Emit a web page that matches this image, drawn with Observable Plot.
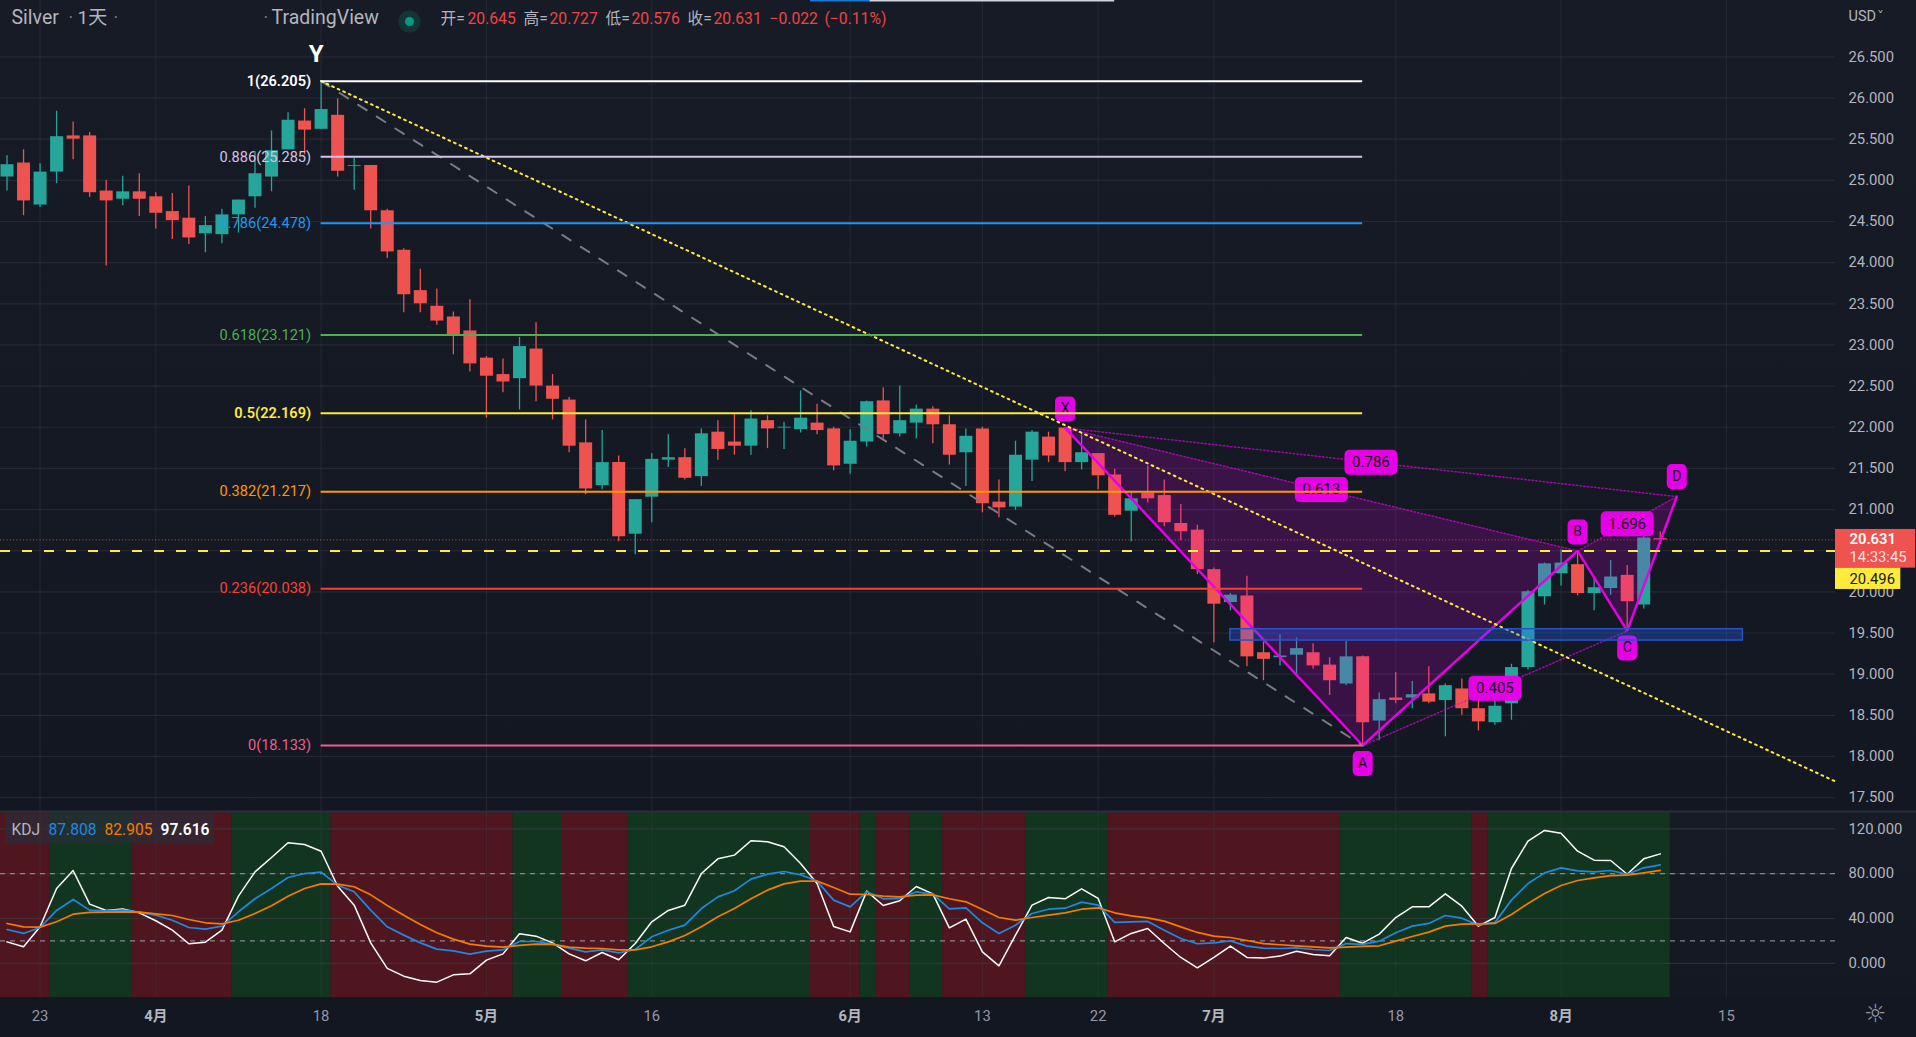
<!DOCTYPE html>
<html><head><meta charset="utf-8">
<script src="https://cdn.jsdelivr.net/npm/d3@7"></script>
<script src="https://cdn.jsdelivr.net/npm/@observablehq/plot@0.6"></script>
<style>
html,body{margin:0;padding:0;background:#131722;overflow:hidden}
svg{display:block}
</style></head><body><div id="chart"></div>
<script>
const open=[25.04,25.21,24.70,25.10,25.54,25.54,24.87,24.77,24.86,24.80,
24.62,24.54,24.35,24.34,24.58,24.80,25.04,25.37,25.72,25.62,
25.79,25.17,25.18,24.63,24.15,23.66,23.47,23.34,23.17,22.84,
22.64,22.59,22.95,22.50,22.33,21.81,21.29,21.57,20.70,21.15,
21.60,21.63,21.40,21.94,21.82,21.77,22.08,21.99,21.97,22.05,
21.98,21.55,21.82,22.32,21.92,22.05,22.22,22.03,21.69,21.98,
21.09,21.03,21.60,21.88,21.99,21.57,21.68,21.42,20.98,21.20,
21.17,20.83,20.75,20.27,19.87,19.95,19.26,19.20,19.23,19.26,
19.11,18.88,19.21,18.43,18.71,18.71,18.76,18.68,18.82,18.58,
18.41,18.64,19.08,19.94,20.22,20.33,19.98,20.04,20.20,19.84,20.645];
const high=[25.30,25.37,25.20,25.84,25.71,25.58,25.00,25.05,25.08,24.85,
24.84,24.93,24.56,24.65,24.76,25.35,25.60,25.82,25.87,26.205,
25.99,25.27,25.18,24.65,24.17,23.92,23.68,23.40,23.55,22.86,
22.83,23.09,23.27,22.64,22.36,22.09,21.96,21.65,21.12,21.68,
21.91,21.74,21.98,22.08,22.16,22.20,22.14,22.06,22.44,22.28,
22.00,21.97,22.32,22.48,22.50,22.27,22.25,22.14,21.98,22.00,
21.36,21.83,21.96,21.94,21.99,21.94,21.68,21.49,21.21,21.53,
21.36,21.06,20.81,20.29,19.98,20.19,19.39,19.48,19.44,19.37,
19.20,19.40,19.22,18.77,19.02,18.91,19.09,18.88,18.94,18.81,
18.77,19.12,20.02,20.35,20.51,20.50,20.17,20.38,20.32,20.69,20.727];
const low=[24.87,24.57,24.67,24.96,25.25,24.79,23.96,24.69,24.56,24.41,
24.28,24.22,24.12,24.23,24.36,24.66,24.86,25.37,25.31,25.62,
25.04,24.88,24.41,24.05,23.39,23.39,23.24,22.88,22.67,22.11,
22.42,22.21,22.31,22.09,21.69,21.18,21.24,20.61,20.45,20.84,
21.51,21.36,21.28,21.60,21.66,21.66,21.74,21.73,21.93,21.91,
21.47,21.43,21.76,21.85,21.88,21.86,21.80,21.54,21.28,20.96,
20.90,20.99,21.34,21.57,21.46,21.48,21.24,20.91,20.61,21.08,
20.79,20.62,20.21,19.38,19.77,19.09,18.92,19.10,18.99,19.06,
18.74,18.86,18.133,18.19,18.64,18.58,18.64,18.24,18.50,18.31,
18.38,18.44,19.05,19.84,20.07,19.95,19.77,19.96,19.525,19.79,20.576];
const close=[25.19,24.75,25.10,25.53,25.50,24.85,24.75,24.86,24.77,24.60,
24.51,24.30,24.45,24.58,24.76,25.08,25.36,25.73,25.61,25.86,
25.11,25.18,24.63,24.13,23.61,23.50,23.29,23.12,22.77,22.62,
22.55,22.98,22.50,22.34,21.77,21.25,21.57,20.67,21.12,21.61,
21.63,21.38,21.92,21.73,21.77,22.10,21.98,22.00,22.11,21.96,
21.53,21.83,22.31,21.91,22.08,22.22,22.03,21.66,21.89,21.07,
21.02,21.66,21.94,21.65,21.57,21.69,21.41,20.93,21.13,21.13,
20.84,20.73,20.27,19.85,19.96,19.21,19.18,19.22,19.31,19.10,
18.92,19.21,18.41,18.69,18.68,18.75,18.66,18.86,18.58,18.42,
18.61,19.08,20.00,20.34,20.35,19.98,20.05,20.18,19.88,20.655,20.631];

const kdjK=[30.2,26.7,32.0,47.2,57.0,47.5,46.9,47.5,45.7,43.0,
38.5,32.0,30.5,33.2,46.0,57.6,66.8,76.6,80.1,81.3,
69.7,63.8,47.5,32.6,25.2,18.3,12.7,11.2,8.2,10.9,
12.1,19.5,19.5,17.2,13.6,10.3,12.1,9.4,12.4,23.7,
29.6,34.1,48.9,59.3,64.7,75.1,79.5,81.9,79.0,73.3,
56.4,50.4,63.8,57.6,57.9,63.8,61.7,48.6,49.5,36.2,
26.7,34.1,44.5,48.3,49.2,54.6,51.9,36.5,37.1,37.4,
29.6,22.2,17.5,18.3,20.1,15.4,13.6,13.3,13.9,12.4,
11.5,17.7,16.9,19.8,27.3,33.2,35.6,42.7,40.3,34.1,
36.5,56.4,71.2,80.7,85.2,82.5,81.6,82.8,79.5,85.2,87.808];
const kdjD=[35.6,32.6,32.3,37.1,43.9,45.4,45.7,46.0,45.7,44.2,
42.7,39.1,36.2,35.3,38.5,44.5,51.3,59.9,66.8,70.9,
70.6,68.3,61.1,51.6,43.0,34.7,27.3,21.6,17.2,15.4,
14.5,16.0,17.2,16.9,14.5,13.6,13.3,12.1,12.1,14.8,
19.2,24.9,32.6,41.5,48.9,57.6,65.3,70.9,73.3,73.3,
67.7,61.7,61.4,59.9,59.3,60.8,61.1,57.6,54.9,48.0,
40.9,38.5,40.9,43.0,45.1,48.3,49.5,45.1,42.4,40.6,
37.7,32.6,27.6,24.3,23.1,20.4,17.7,16.6,15.7,14.8,
13.9,14.5,15.1,15.7,19.8,24.0,27.9,33.2,35.0,35.3,
35.6,43.6,53.4,62.3,69.4,73.9,76.3,78.3,78.6,80.7,82.905];
const kdjJ=[19.2,14.8,32.6,66.8,82.8,52.8,47.2,48.6,45.1,38.0,
29.6,17.5,18.9,29.6,59.9,81.6,94.4,107.5,106.0,100.0,
68.8,51.9,18.3,-4.5,-11.4,-15.2,-16.7,-10.2,-9.3,2.9,
8.5,26.4,24.3,18.3,8.5,2.3,9.7,3.2,17.7,37.1,
47.2,51.9,80.1,93.2,96.5,109.3,108.4,103.9,89.1,71.2,
32.9,28.1,64.4,51.6,55.8,68.5,62.0,31.7,39.4,10.3,
-2.2,25.2,51.9,58.7,57.6,66.5,57.9,19.2,26.7,31.1,
17.7,5.3,-3.9,5.3,15.4,5.3,4.7,6.5,10.9,7.9,
6.8,23.1,18.0,26.1,40.9,50.4,50.4,62.0,51.0,33.2,
40.9,84.6,109.0,118.5,116.1,100.0,92.0,91.7,79.5,93.2,97.616];

const stripeEdges=[-0.4,2.6,7.6,13.6,19.6,30.6,33.6,37.6,48.6,51.6,52.6,54.6,56.6,61.6,66.6,80.6,88.6,89.6,100.6];
const priceTicks=[17.5,18,18.5,19,19.5,20,20.5,21,21.5,22,22.5,23,23.5,24,24.5,25,25.5,26,26.5];
const priceLabelTicks=[17.5,18,18.5,19,19.5,20,21,21.5,22,22.5,23,23.5,24,24.5,25,25.5,26,26.5];
const kdjTicks=[0,40,80,120];
const kdjLevels=[20,80];
const timeTicks=[2,9,19,29,39,51,59,66,73,84,94,104];
const timeLabels=["23","4月","18","5月","16","6月","13","22","7月","18","8月","15"];
const fibLabels=["1(26.205)","0.886(25.285)","0.786(24.478)","0.618(23.121)","0.5(22.169)","0.382(21.217)","0.236(20.038)","0(18.133)"];
const fibPrices=[26.205,25.285,24.478,23.121,22.169,21.217,20.038,18.133];
const fibColors=["#ffffff","#d1c4e9","#2196f3","#4caf50","#ffeb3b","#ff9800","#f44336","#ec5f8f"];
const patI=[64,82,95,98,101];
const patP=[21.992,18.133,20.497,19.525,21.157];
const patNames=["X","A","B","C","D"];
const ratioNames=["0.786","0.613","0.405","1.696"];
const lastPrice=20.631, alertPrice=20.496;

const bars=open.map((o,i)=>({i,o,h:high[i],l:low[i],c:close[i]}));
const ups=bars.filter(b=>b.c>=b.o), downs=bars.filter(b=>b.c<b.o);
const pat=patI.map((i,k)=>({i,p:patP[k],n:patNames[k]}));
const [X,A,B,C,D]=pat;
const ratios=[[X,D],[X,B],[A,C],[B,D]].map(([a,b],k)=>({i:(a.i+b.i)/2,p:(a.p+b.p)/2,n:ratioNames[k]}));
const fib=fibLabels.map((t,k)=>({t,p:fibPrices[k],c:fibColors[k]}));
const stripes=stripeEdges.slice(0,-1).map((e,k)=>({a:e,b:stripeEdges[k+1],up:k%2===1}));

const XD=[-0.393,110.6];
const FONT='Roboto,"Noto Sans CJK SC",sans-serif';
const MAG="#e600e6";
const pill=(w,h,r)=>({draw(c){const x=w/2,y=h/2;c.moveTo(-x+r,-y);c.arcTo(x,-y,x,y,r);c.arcTo(x,y,-x,y,r);c.arcTo(-x,y,-x,-y,r);c.arcTo(-x,-y,x,-y,r);c.closePath();}});
const hdr=(t,dx,fill,fs=15.7,dy=12)=>Plot.text([t],{text:d=>d,frameAnchor:"top-left",dx,dy,fill,fontSize:fs,textAnchor:"start",lineAnchor:"top"});
const letterSign=(n)=>({X:-19,A:18,B:-19,C:17,D:-20})[n];

const main=Plot.plot({
  width:1916,height:811,marginTop:0,marginBottom:0,marginLeft:0,marginRight:81,
  style:{background:"linear-gradient(#171b26,#131722)",fontFamily:FONT,fontSize:"14px",overflow:"visible"},
  x:{type:"linear",domain:XD,axis:null},
  y:{type:"linear",domain:[17.331,27.185],axis:null},
  marks:[
    Plot.gridY(priceTicks,{stroke:"#2a2e39",strokeOpacity:0.75,strokeWidth:1.2}),
    Plot.gridX(timeTicks,{stroke:"#2a2e39",strokeOpacity:0.6,strokeWidth:1.2}),
    Plot.ruleY([27.185],{x1:48.6,x2:52.2,stroke:"#1976d2",strokeWidth:2}),
    Plot.ruleY([27.185],{x1:52.2,x2:67,stroke:"#d1d4dc",strokeWidth:2}),
    // candles
    Plot.ruleX(ups,{x:"i",y1:"l",y2:"h",stroke:"#26a69a",strokeWidth:1.3}),
    Plot.ruleX(downs,{x:"i",y1:"l",y2:"h",stroke:"#ef5350",strokeWidth:1.3}),
    Plot.ruleX(ups,{x:"i",y1:"o",y2:"c",stroke:"#26a69a",strokeWidth:13}),
    Plot.ruleX(downs,{x:"i",y1:"o",y2:"c",stroke:"#ef5350",strokeWidth:13}),
    // price lines
    Plot.ruleY([lastPrice],{stroke:"#ef5350",strokeWidth:1,strokeOpacity:0.85,strokeDasharray:"1,2.3"}),
    // pattern
    Plot.line([X,A,B],{x:"i",y:"p",fill:MAG,fillOpacity:0.18,stroke:"none"}),
    Plot.line([B,C,D],{x:"i",y:"p",fill:MAG,fillOpacity:0.18,stroke:"none"}),
    ...[[X,D],[X,B],[A,C],[B,D]].map(s=>Plot.line(s,{x:"i",y:"p",stroke:MAG,strokeOpacity:0.65,strokeWidth:1.5,strokeDasharray:"1.5,2.2"})),
    Plot.line(pat,{x:"i",y:"p",stroke:MAG,strokeWidth:2.5,strokeLinejoin:"miter"}),
    Plot.ruleY([alertPrice],{stroke:"#ffeb3b",strokeWidth:2,strokeDasharray:"10,12"}),
    // trend lines
    Plot.line([{i:19,p:26.205},{i:82,p:18.133}],{x:"i",y:"p",stroke:"#787b86",strokeWidth:2,strokeDasharray:"10,12"}),
    Plot.line([{i:19,p:26.205},{i:110.6,p:17.695}],{x:"i",y:"p",stroke:"#ffeb3b",strokeWidth:2,strokeDasharray:"1.8,4.3"}),
    // pattern labels
    Plot.dot(ratios,{x:"i",y:"p",symbol:pill(53,25,5),fill:MAG}),
    Plot.text(ratios,{x:"i",y:"p",text:"n",fill:"#111",fontSize:15}),
    ...pat.map(p=>Plot.dot([p],{x:"i",y:"p",dy:letterSign(p.n),symbol:pill(20,25,5),fill:MAG})),
    ...pat.map(p=>Plot.text([p],{x:"i",y:"p",dy:letterSign(p.n),text:"n",fill:"#111",fontSize:14})),
    // fib
    ...fib.map(f=>Plot.ruleY([f.p],{x1:19,x2:82,stroke:f.c,strokeWidth:2})),
    Plot.text(fib.filter(f=>!["1(26.205)","0.5(22.169)"].includes(f.t)),{x:()=>19,y:"p",text:"t",fill:"c",textAnchor:"end",dx:-10,fontSize:14.6}),
    Plot.text(fib.filter(f=>["1(26.205)","0.5(22.169)"].includes(f.t)),{x:()=>19,y:"p",text:"t",fill:"c",textAnchor:"end",dx:-10,fontSize:14.6,fontWeight:600}),
    Plot.text(["Y"],{x:()=>19,y:()=>26.205,text:d=>d,dx:-5,dy:-27,fill:"#ffffff",fontSize:24,fontWeight:700}),
    // zone
    Plot.rect([{a:74,b:105,t:19.546,u:19.408}],{x1:"a",x2:"b",y1:"u",y2:"t",fill:"#2962ff",fillOpacity:0.32,stroke:"#2952c8",strokeWidth:1.5}),
    // price axis
    Plot.axisY(priceLabelTicks,{anchor:"right",tickSize:0,tickPadding:13,tickFormat:d3.format(".3f"),fill:"#b2b5be",label:null,fontSize:14.8}),
    Plot.rect([{a:110.6,b:115.45,t:20.758,u:20.288}],{x1:"a",x2:"b",y1:"u",y2:"t",fill:"#ef5350"}),
    Plot.rect([{a:110.6,b:114.55,t:20.288,u:20.029}],{x1:"a",x2:"b",y1:"u",y2:"t",fill:"#ffeb3b"}),
    Plot.text(["20.631"],{text:d=>d,x:()=>110.6,y:()=>20.631,dx:14,dy:-1,textAnchor:"start",fill:"#fff",fontSize:14.8,fontWeight:600}),
    Plot.text(["14:33:45"],{text:d=>d,x:()=>110.6,y:()=>20.631,dx:14,dy:17,textAnchor:"start",fill:"#fff",fillOpacity:0.85,fontSize:14.8}),
    Plot.text(["20.496"],{text:d=>d,x:()=>110.6,y:()=>20.158,dx:14,textAnchor:"start",fill:"#131722",fontSize:14.8}),
    Plot.text(["USD"],{text:d=>d,x:()=>110.6,y:()=>27.185,dx:13,dy:16,textAnchor:"start",fill:"#b2b5be",fontSize:14.5}),
    Plot.text(["˅"],{text:d=>d,x:()=>110.6,y:()=>27.185,dx:45,dy:15,fill:"#b2b5be",fontSize:13,fontFamily:"DejaVu Sans"}),
    // header
    hdr("Silver",11,"#b2b5be",19.5,10),
    hdr("·",68,"#787b86",18,11),
    hdr("1天",77,"#b2b5be",19,10),
    hdr("·",113,"#787b86",18,11),
    hdr("·",263,"#787b86",18,11),
    hdr("TradingView",271,"#b2b5be",19.5,10),
    Plot.dot([0],{frameAnchor:"top-left",dx:409,dy:21,r:11,fill:"#089981",fillOpacity:0.2}),
    Plot.dot([0],{frameAnchor:"top-left",dx:409,dy:21,r:4.5,fill:"#089981"}),
    hdr("开=",440,"#b2b5be"),hdr("20.645",467,"#ef4444"),
    hdr("高=",523,"#b2b5be"),hdr("20.727",549,"#ef4444"),
    hdr("低=",605,"#b2b5be"),hdr("20.576",631,"#ef4444"),
    hdr("收=",687,"#b2b5be"),hdr("20.631",713,"#ef4444"),
    hdr("−0.022",769,"#ef4444"),hdr("(−0.11%)",824,"#ef4444")
  ]
});

const ser=(arr)=>arr.map((v,i)=>({i,v}));
const months=timeTicks.filter((t,k)=>timeLabels[k].includes("月"));
const days=timeTicks.filter((t,k)=>!timeLabels[k].includes("月"));
const lab=t=>timeLabels[timeTicks.indexOf(t)];
const kdj=Plot.plot({
  width:1916,height:226,marginTop:0,marginBottom:40,marginLeft:0,marginRight:81,
  style:{background:"linear-gradient(#171b26,#141823 82%,#131722 82%)",fontFamily:FONT,fontSize:"14px",overflow:"visible"},
  x:{type:"linear",domain:XD,axis:null},
  y:{type:"linear",domain:[-30.4,135.4],axis:null},
  marks:[
    Plot.rect(stripes.filter(s=>s.up),{x1:"a",x2:"b",fill:"#12351f"}),
    Plot.rect(stripes.filter(s=>!s.up),{x1:"a",x2:"b",fill:"#4f1620"}),
    Plot.gridY(kdjTicks,{stroke:"#3a3d48",strokeOpacity:0.6,strokeWidth:1.2}),
    Plot.gridX(timeTicks,{stroke:"#3a3d48",strokeOpacity:0.35,strokeWidth:1.2}),
    Plot.ruleY(kdjLevels,{stroke:"#9598a1",strokeOpacity:0.85,strokeWidth:1.2,strokeDasharray:"5,5"}),
    Plot.line(ser(kdjJ),{x:"i",y:"v",stroke:"#ffffff",strokeWidth:1.5}),
    Plot.line(ser(kdjK),{x:"i",y:"v",stroke:"#1e88e5",strokeWidth:1.7}),
    Plot.line(ser(kdjD),{x:"i",y:"v",stroke:"#f57c00",strokeWidth:1.7}),
    Plot.ruleY([135.4],{stroke:"#2a2e39",strokeWidth:2,x1:-0.393,x2:115.5}),
    Plot.axisY(kdjTicks,{anchor:"right",tickSize:0,tickPadding:13,tickFormat:d3.format(".3f"),fill:"#b2b5be",label:null,fontSize:14.8}),
    Plot.axisX(days,{anchor:"bottom",tickSize:0,tickPadding:13,tickFormat:lab,fill:"#9598a1",label:null,fontSize:14.8}),
    Plot.axisX(months,{anchor:"bottom",tickSize:0,tickPadding:13,tickFormat:lab,fill:"#b2b5be",label:null,fontSize:14.8,fontWeight:700}),
    Plot.rect([0],{x1:()=>-0.08,x2:()=>12.55,y1:()=>106.5,y2:()=>133,fill:"#2a2e39",fillOpacity:0.7}),
    ...[["KDJ",11,"#b2b5be",400],["87.808",48,"#1e88e5",400],["82.905",104,"#f57c00",400],["97.616",160,"#ffffff",600]].map(([t,dx,fill,fw])=>
      Plot.text([t],{text:d=>d,frameAnchor:"top-left",dx,dy:12,lineAnchor:"top",textAnchor:"start",fill,fontSize:15.6,fontWeight:fw})),
    Plot.text(["☼"],{text:d=>d,frameAnchor:"bottom-right",dx:51,dy:7,lineAnchor:"top",fill:"#9598a1",fontSize:25,fontFamily:"DejaVu Sans"})
  ]
});
document.getElementById("chart").append(main,kdj);
</script></body></html>
